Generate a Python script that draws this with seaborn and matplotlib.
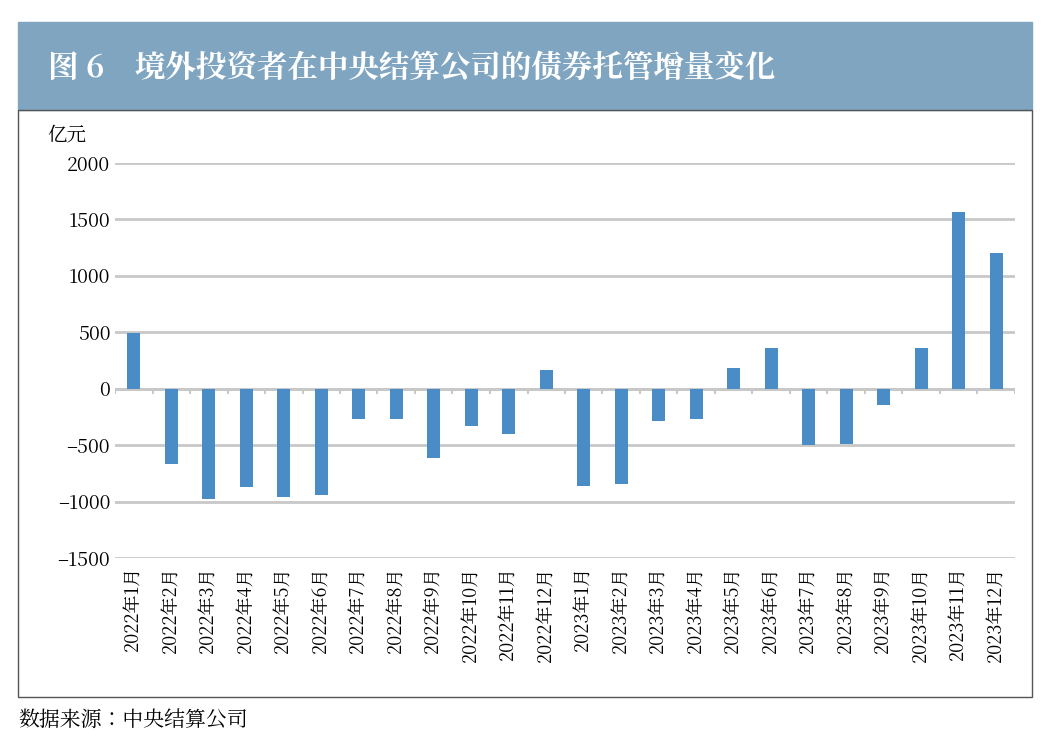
import matplotlib
matplotlib.use("Agg")
import matplotlib.pyplot as plt
import seaborn as sns
import pandas as pd
from matplotlib.patches import Rectangle
from matplotlib import font_manager as fm

# find an installed CJK font
cjk = [f for f in fm.fontManager.ttflist if "CJK" in f.name]
cjk_name = next((f.name for f in cjk if "SC" in f.name), cjk[0].name if cjk else "DejaVu Sans")
if not cjk:
    for path in fm.findSystemFonts():
        if "CJK" in path or "cjk" in path.lower():
            fm.fontManager.addfont(path)
    cjk = [f for f in fm.fontManager.ttflist if "CJK" in f.name]
    cjk_name = next((f.name for f in cjk if "SC" in f.name), cjk[0].name if cjk else "DejaVu Sans")

plt.rcParams["font.family"] = [cjk_name, "DejaVu Sans"]
plt.rcParams["axes.unicode_minus"] = False

# Data
months = [f"2022年{m}月" for m in range(1, 13)] + [f"2023年{m}月" for m in range(1, 13)]
values = [490, -670, -980, -870, -960, -945, -270, -270, -610, -330, -400, 165,
          -860, -840, -290, -270, 185, 360, -500, -490, -140, 365, 1565, 1200]
yticks = [-1500, -1000, -500, 0, 500, 1000, 1500, 2000]

df = pd.DataFrame({"month": months, "value": values})

fig = plt.figure(figsize=(10.5, 7.49), dpi=100)

# Title band and chart frame
fig.patches.append(Rectangle((18 / 1050, 1 - 110 / 749), 1014 / 1050, 88 / 749,
                             transform=fig.transFigure, color="#7fa5c0", zorder=0))
fig.patches.append(Rectangle((18 / 1050, 1 - 697 / 749), 1014 / 1050, 587 / 749,
                             transform=fig.transFigure, fill=False, edgecolor="#555555",
                             linewidth=1, zorder=0))
fig.text(48 / 1050, 1 - 68 / 749, "图 6　境外投资者在中央结算公司的债券托管增量变化",
         color="white", fontsize=22, fontweight="bold", va="center")
fig.text(18 / 1050, 1 - 720 / 749, "数据来源：中央结算公司", fontsize=15, va="center")

ax = fig.add_axes([115 / 1050, 1 - 558 / 749, 900 / 1050, 395 / 749])
sns.barplot(data=df, x="month", y="value", color="#4a8cc6", width=0.35,
            saturation=1, ax=ax, zorder=3)

ax.set_ylim(-1500, 2000)
ax.set_yticks(yticks)
ax.set_yticklabels([str(v).replace("-", "–") for v in yticks], fontsize=14)
ax.grid(axis="y", color="#c8c8c8", linewidth=2, zorder=0)
ax.axhline(0, color="#c8c8c8", linewidth=2, zorder=1)
for i in range(len(months) + 1):
    ax.plot([i - 0.5, i - 0.5], [0, -40], color="#c8c8c8", linewidth=1.5, zorder=1)
ax.set_xlim(-0.5, len(months) - 0.5)
ax.tick_params(axis="x", labelrotation=90, labelsize=13, length=0, pad=6)
ax.tick_params(axis="y", length=0)
ax.set_xlabel("")
ax.set_ylabel("")
for s in ax.spines.values():
    s.set_visible(False)
ax.text(-0.075, 1.07, "亿元", transform=ax.transAxes, fontsize=14, va="center")

fig.savefig("out.png", dpi=100)
